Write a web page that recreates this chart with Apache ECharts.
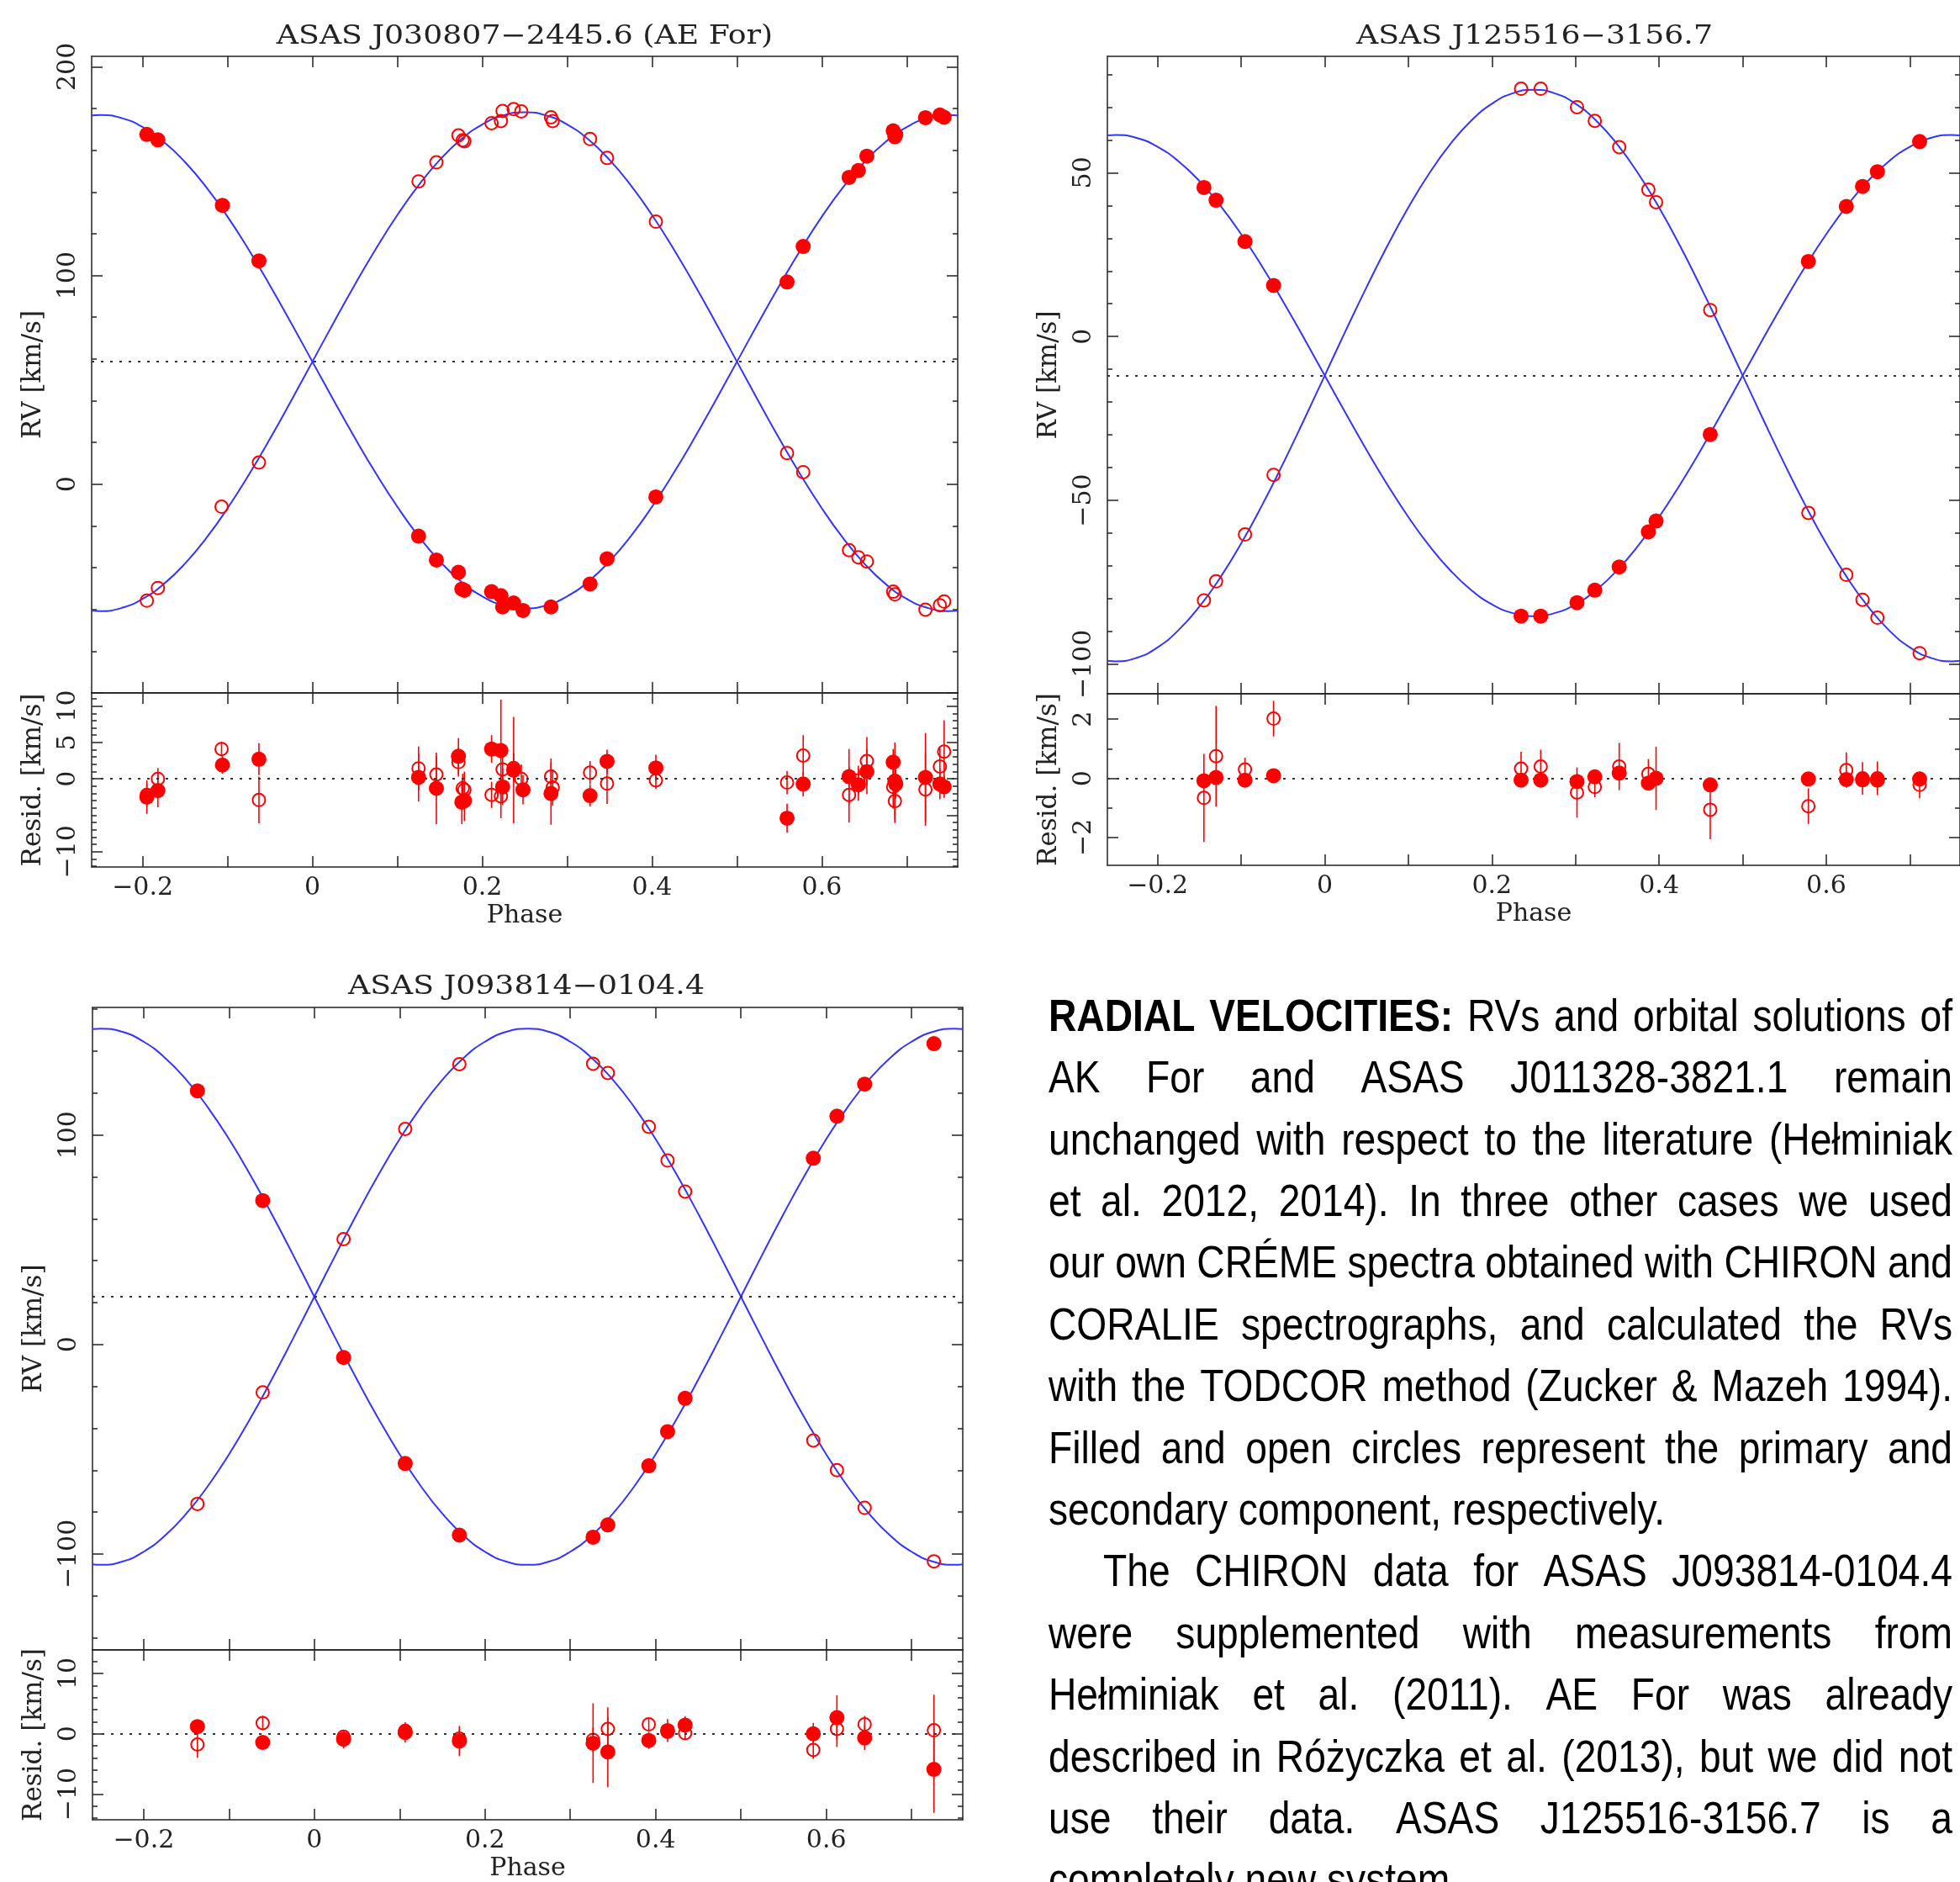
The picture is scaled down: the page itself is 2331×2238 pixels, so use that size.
<!DOCTYPE html>
<html><head><meta charset="utf-8">
<script src="https://cdn.jsdelivr.net/npm/echarts@6/dist/echarts.min.js"></script>
<style>html,body{margin:0;padding:0;background:#fff}#c{width:2331px;height:2238px}</style>
</head><body><div id="c"></div>
<script>
// ================= DATA =================
const curvePhase = [-0.26,-0.25,-0.225,-0.2,-0.175,-0.15,-0.125,-0.1,-0.075,-0.05,-0.025,0,0.025,0.05,0.075,0.1,0.125,0.15,0.175,0.2,0.225,0.25,
  0.275,0.3,0.325,0.35,0.375,0.4,0.425,0.45,0.475,0.5,0.525,0.55,0.575,0.6,0.625,0.65,0.675,0.7,0.725,0.75,0.76];

// ---- Panel A: ASAS J030807-2445.6 (AE For) ----
const aTitle = 'ASAS J030807\u22122445.6 (AE For)';
const aGamma = 58.7;
const aModelPrim = [176.66,176.9,175.45,171.12,164.02,154.32,142.28,128.18,112.36,95.22,77.19,58.7,40.21,22.18,5.04,-10.78,-24.88,-36.92,-46.62,-53.72,-58.05,-59.5,
  -58.05,-53.72,-46.62,-36.92,-24.88,-10.78,5.04,22.18,40.21,58.7,77.19,95.22,112.36,128.18,142.28,154.32,164.02,171.12,175.45,176.9,176.66];
const aModelSec = [-60.56,-60.8,-59.33,-54.96,-47.77,-37.98,-25.8,-11.54,4.45,21.77,40.01,58.7,77.39,95.63,112.95,128.94,143.2,155.38,165.17,172.36,176.73,178.2,
  176.73,172.36,165.17,155.38,143.2,128.94,112.95,95.63,77.39,58.7,40.01,21.77,4.45,-11.54,-25.8,-37.98,-47.77,-54.96,-59.33,-60.8,-60.56];
const aPhaseP = [-0.195,-0.182,-0.106,-0.063,0.125,0.146,0.172,0.176,0.179,0.211,0.222,0.224,0.237,0.248,0.281,0.327,0.347,0.4045,0.559,0.578,0.632,0.643,0.653,0.684,0.686,0.687,0.722,0.739,0.744];
const aRvP = [167.6,165.0,133.6,107.0,-24.9,-36.3,-42.2,-50.2,-50.8,-51.5,-53.4,-58.8,-56.9,-60.5,-58.8,-47.8,-35.7,-6.1,96.9,113.9,147.0,150.3,157.2,169.3,166.5,167.5,175.6,176.9,175.8];
const aResP = [-2.5,-1.6,1.9,2.7,0.2,-1.3,3.1,-3.2,-3.0,4.1,3.9,-1.1,1.2,-1.5,-2.0,-2.3,2.4,1.5,-5.4,-0.7,0.3,-0.8,1.0,2.3,-0.3,-0.7,0.2,-0.7,-1.1];
const aErrP = [2.3,2.3,1.2,2.2,3.3,4.9,2.5,3.0,2.8,1.9,7.0,2.5,7.3,2.0,4.3,1.5,1.6,1.8,2.0,1.7,3.8,2.2,3.1,1.8,5.3,2.0,6.1,2.1,1.5];
const aPhaseS = [-0.195,-0.182,-0.107,-0.063,0.125,0.146,0.172,0.177,0.179,0.211,0.222,0.224,0.237,0.246,0.281,0.283,0.327,0.347,0.4045,0.559,0.578,0.632,0.643,0.653,0.684,0.686,0.722,0.739,0.744];
const aRvS = [-55.8,-49.7,-10.8,10.4,145.1,154.2,167.1,164.8,164.3,173.0,174.0,178.8,179.7,178.6,175.8,174.0,165.4,156.3,125.8,14.9,5.8,-31.6,-35.0,-37.0,-51.5,-52.8,-60.1,-58.0,-56.2];
const aResS = [-2.2,0.0,4.1,-2.9,1.45,0.6,2.3,-1.3,-1.5,-2.2,-2.4,1.3,1.5,0.0,0.3,-1.2,0.85,-0.65,-0.2,-0.5,3.2,-2.2,-0.2,2.45,-1.1,-3.05,-1.45,1.7,3.75];
const aErrS = [1.5,1.5,1.0,3.2,3.0,2.5,2.0,2.0,2.5,1.8,3.0,2.5,2.0,2.0,2.5,2.5,1.6,2.8,1.2,1.6,2.8,3.8,2.0,3.3,3.0,3.0,5.0,2.5,4.3];

// ---- Panel B: ASAS J125516-3156.7 ----
const bTitle = 'ASAS J125516\u22123156.7';
const bGamma = -11.9;
const bModelPrim = [61.35,61.5,60.6,57.91,53.5,47.48,40.0,31.24,21.42,10.78,-0.42,-11.9,-23.38,-34.58,-45.22,-55.04,-63.8,-71.28,-77.3,-81.71,-84.4,-85.3,
  -84.4,-81.71,-77.3,-71.28,-63.8,-55.04,-45.22,-34.58,-23.38,-11.9,-0.42,10.78,21.42,31.24,40.0,47.48,53.5,57.91,60.6,61.5,61.35];
const bModelSec = [-98.93,-99.1,-98.03,-94.84,-89.6,-82.44,-73.56,-63.16,-51.49,-38.84,-25.54,-11.9,1.74,15.04,27.69,39.36,49.76,58.64,65.8,71.04,74.23,75.3,
  74.23,71.04,65.8,58.64,49.76,39.36,27.69,15.04,1.74,-11.9,-25.54,-38.84,-51.49,-63.16,-73.56,-82.44,-89.6,-94.84,-98.03,-99.1,-98.93];
const bPhase = [-0.1445,-0.130,-0.0954,-0.0612,0.2349,0.2584,0.3018,0.3231,0.3523,0.3872,0.3964,0.4612,0.5786,0.624,0.6434,0.6612,0.7117];
const bRvP = [45.5,41.6,29.0,15.6,-85.3,-85.3,-81.2,-77.4,-70.3,-59.6,-56.3,-29.9,22.9,39.7,45.8,50.3,59.5];
const bRvS = [-80.5,-74.7,-60.4,-42.2,75.6,75.6,70.0,65.8,57.8,44.8,41.0,8.1,-53.8,-72.7,-80.3,-85.8,-96.6];
const bResP = [-0.08,0.03,-0.06,0.09,-0.06,-0.06,-0.11,0.05,0.18,-0.16,0.0,-0.22,-0.02,-0.04,-0.05,-0.06,-0.02];
const bErrP = [0.1,0.1,0.1,0.1,0.1,0.1,0.1,0.1,0.1,0.1,0.1,0.1,0.1,0.1,0.1,0.1,0.1];
const bResS = [-0.66,0.75,0.30,2.02,0.33,0.40,-0.48,-0.29,0.40,0.15,0.0,-1.06,-0.94,0.28,0.0,0.0,-0.22];
const bErrS = [1.49,1.7,0.4,0.6,0.57,0.57,0.85,0.35,0.8,0.5,1.07,1.0,0.6,0.6,0.55,0.57,0.45];

// ---- Panel C: ASAS J093814-0104.4 ----
const cTitle = 'ASAS J093814\u22120104.4';
const cGamma = 22.8;
const cModelPrim = [150.54,150.8,149.23,144.54,136.85,126.35,113.31,98.04,80.91,62.35,42.82,22.8,2.78,-16.75,-35.31,-52.44,-67.71,-80.75,-91.25,-98.94,-103.63,-105.2,
  -103.63,-98.94,-91.25,-80.75,-67.71,-52.44,-35.31,-16.75,2.78,22.8,42.82,62.35,80.91,98.04,113.31,126.35,136.85,144.54,149.23,150.8,150.54];
const cModelSec = [-104.94,-105.2,-103.63,-98.94,-91.25,-80.75,-67.71,-52.44,-35.31,-16.75,2.78,22.8,42.82,62.35,80.91,98.04,113.31,126.35,136.85,144.54,149.23,150.8,
  149.23,144.54,136.85,126.35,113.31,98.04,80.91,62.35,42.82,22.8,2.78,-16.75,-35.31,-52.44,-67.71,-80.75,-91.25,-98.94,-103.63,-105.2,-104.94];
const cPhase = [-0.137,-0.0605,0.0343,0.1065,0.170,0.3267,0.344,0.392,0.414,0.4346,0.5848,0.6125,0.645,0.7262];
const cRvP = [121.1,68.7,-6.2,-56.8,-91.0,-92.0,-86.1,-57.9,-41.6,-25.7,88.9,109.0,124.3,143.6];
const cRvS = [-76.1,-22.9,50.3,102.9,133.8,134.0,129.6,103.9,87.8,73.0,-45.8,-60.0,-78.0,-103.5];
const cResP = [1.2,-1.43,-0.9,0.22,-1.2,-1.56,-3.0,-1.1,0.53,1.43,0.0,2.67,-0.67,-5.9];
const cErrP = [0.9,0.6,1.5,1.7,2.5,6.6,5.8,1.4,1.9,1.5,1.8,3.7,2.0,7.2];
const cResS = [-1.78,1.78,-0.5,0.5,-0.8,-1.0,0.8,1.56,0.3,0.1,-2.67,0.8,1.56,0.58];
const cErrS = [2.2,1.2,1.0,1.0,1.5,2.0,3.6,1.0,1.0,1.0,1.5,3.0,1.4,5.9];

// ---- tick labels ----
const xLabelVals = [-0.2, 0, 0.2, 0.4, 0.6];
const xTickVals = [-0.2,-0.1,0,0.1,0.2,0.3,0.4,0.5,0.6,0.7];
const aMainLabels = [0, 100, 200];
const aResLabels = [-10, -5, 0, 5, 10];
const bMainLabels = [-100, -50, 0, 50];
const bResLabels = [-2, 0, 2];
const cMainLabels = [-100, 0, 100];
const cResLabels = [-10, 0, 10];

// ---- paragraph text ----
const textLines = [
  {t:'*RADIAL *VELOCITIES: RVs and orbital solutions of', j:true},
  {t:'AK For and ASAS J011328-3821.1 remain', j:true},
  {t:'unchanged with respect to the literature (Hełminiak', j:true},
  {t:'et al. 2012, 2014). In three other cases we used', j:true},
  {t:'our own CRÉME spectra obtained with CHIRON and', j:true},
  {t:'CORALIE spectrographs, and calculated the RVs', j:true},
  {t:'with the TODCOR method (Zucker & Mazeh 1994).', j:true},
  {t:'Filled and open circles represent the primary and', j:true},
  {t:'secondary component, respectively.', j:false},
  {t:'The CHIRON data for ASAS J093814-0104.4', j:true, ind:true},
  {t:'were supplemented with measurements from', j:true},
  {t:'Hełminiak et al. (2011). AE For was already', j:true},
  {t:'described in Różyczka et al. (2013), but we did not', j:true},
  {t:'use their data. ASAS J125516-3156.7 is a', j:true},
  {t:'completely new system.', j:false}
];

// ================= STYLE / LAYOUT =================
const BLUE = '#3434ff', RED = '#ff0000', INK = '#222222';
const SERIF = '"DejaVu Serif", "Liberation Serif", serif';
const LBL = 30;

function fmt(v){ const r = Math.round(v*1000)/1000; if (r === 0) return '0'; return (r<0?'\u2212':'') + String(Math.abs(r)); }
function steps(a,b,s){ const o=[]; for(let v=a; v<=b+1e-9; v+=s) o.push(Math.round(v*1000)/1000); return o; }
function zip(a,b){ return a.map((v,i)=>[v,b[i]]); }
function bars(p,r,e){ return p.map((v,i)=>[v, r[i]-e[i], r[i]+e[i]]); }

const grids=[], xAxes=[], yAxes=[], series=[], graphics=[];
const lineSt = {color: INK, width: 1.5};

function addGrid(box, ymin, ymax, yMajor, yLabels, yMinor, showX, yName){
  const gi = grids.length;
  grids.push({left: box.l, top: box.t, width: box.w, height: box.h});
  const xi = xAxes.length;
  const xc = {gridIndex: gi, type:'value', min:-0.26, max:0.76, splitLine:{show:false},
    axisLine:{show:true, onZero:false, lineStyle:lineSt},
    axisTick:{show:true, inside:true, length:13, customValues:xTickVals, lineStyle:lineSt}};
  xAxes.push(Object.assign({}, xc, {position:'bottom',
    axisLabel: showX ? {show:true, customValues:xLabelVals, formatter:fmt, margin:10, hideOverlap:false, fontFamily:SERIF, fontSize:LBL, color:INK} : {show:false},
    name: showX ? 'Phase' : '', nameLocation:'middle', nameGap:43,
    nameTextStyle:{fontFamily:SERIF, fontSize:LBL, color:INK}}));
  xAxes.push(Object.assign({}, xc, {position:'top', axisLabel:{show:false}}));
  const yi = yAxes.length;
  const yc = {gridIndex: gi, type:'value', min:ymin, max:ymax, splitLine:{show:false}};
  const nameSt = {fontFamily:SERIF, fontSize:31, color:INK};
  yAxes.push(Object.assign({}, yc, {position:'left', axisLine:{show:true, onZero:false, lineStyle:lineSt},
    axisTick:{show:true, inside:true, length:13, customValues:yMajor, lineStyle:lineSt},
    axisLabel:{show:true, customValues:yLabels, formatter:fmt, rotate:90, margin:13, hideOverlap:false, showMinLabel:true, showMaxLabel:true, fontFamily:SERIF, fontSize:LBL, color:INK},
    name:yName, nameLocation:'middle', nameGap:54, nameRotate:90, nameTextStyle:nameSt}));
  yAxes.push(Object.assign({}, yc, {position:'left', axisLine:{show:false, onZero:false},
    axisTick:{show:true, inside:true, length:6, customValues:yMinor, lineStyle:lineSt}, axisLabel:{show:false}}));
  yAxes.push(Object.assign({}, yc, {position:'right', axisLine:{show:true, onZero:false, lineStyle:lineSt},
    axisTick:{show:true, inside:true, length:13, customValues:yMajor, lineStyle:lineSt}, axisLabel:{show:false}}));
  yAxes.push(Object.assign({}, yc, {position:'right', axisLine:{show:false, onZero:false},
    axisTick:{show:true, inside:true, length:6, customValues:yMinor, lineStyle:lineSt}, axisLabel:{show:false}}));
  return {xi, yi};
}

const dotted = {color:'#333', width:2, type:[3,8]};
function gammaLine(v){ return {silent:true, symbol:['none','none'], label:{show:false}, lineStyle:dotted, data:[{yAxis:v}], animation:false}; }

function errSeries(ax, data){
  return {type:'custom', xAxisIndex:ax.xi, yAxisIndex:ax.yi, data, encode:{x:0, y:[1,2]}, z:3, silent:true,
    renderItem:(params, api)=>{
      const p1 = api.coord([api.value(0), api.value(1)]);
      const p2 = api.coord([api.value(0), api.value(2)]);
      return {type:'line', shape:{x1:p1[0], y1:p1[1], x2:p2[0], y2:p2[1]}, style:{stroke:RED, lineWidth:1.6}};
    }};
}
function filled(ax, data){ return {type:'scatter', xAxisIndex:ax.xi, yAxisIndex:ax.yi, data, symbol:'circle', symbolSize:18, itemStyle:{color:RED, opacity:1}, z:5, silent:true}; }
function open(ax, data){ return {type:'scatter', xAxisIndex:ax.xi, yAxisIndex:ax.yi, data, symbol:'circle', symbolSize:15, itemStyle:{color:'rgba(255,255,255,0)', borderColor:RED, borderWidth:2, opacity:1}, z:4, silent:true}; }

function panel(P){
  const m = addGrid(P.main, P.mainMin, P.mainMax, P.mainMajor, P.mainLabels, P.mainMinor, false, 'RV [km/s]');
  const r = addGrid(P.res, P.resMin, P.resMax, P.resMajor, P.resLabels, P.resMinor, true, 'Resid. [km/s]');
  series.push({type:'line', xAxisIndex:m.xi, yAxisIndex:m.yi, data:zip(curvePhase, P.modelP), smooth:true, showSymbol:false,
    lineStyle:{color:BLUE, width:2}, z:2, silent:true, markLine:gammaLine(P.gamma)});
  series.push({type:'line', xAxisIndex:m.xi, yAxisIndex:m.yi, data:zip(curvePhase, P.modelS), smooth:true, showSymbol:false,
    lineStyle:{color:BLUE, width:2}, z:2, silent:true});
  series.push(open(m, zip(P.phaseS, P.rvS)));
  series.push(filled(m, zip(P.phaseP, P.rvP)));
  const zero = filled(r, zip(P.phaseP, P.resP));
  zero.markLine = gammaLine(0);
  series.push(errSeries(r, bars(P.phaseS, P.resS, P.errS)));
  series.push(errSeries(r, bars(P.phaseP, P.resP, P.errP)));
  series.push(open(r, zip(P.phaseS, P.resS)));
  series.push(zero);
  graphics.push({type:'text', x:P.tx, y:P.ty, scaleX:1.17, silent:true,
    style:{text:P.title, font:'31px ' + SERIF, fill:INK, textAlign:'center', textVerticalAlign:'middle'}});
}

panel({title:aTitle, tx:624, ty:44, gamma:aGamma, modelP:aModelPrim, modelS:aModelSec,
  phaseP:aPhaseP, rvP:aRvP, resP:aResP, errP:aErrP, phaseS:aPhaseS, rvS:aRvS, resS:aResS, errS:aErrS,
  main:{l:109, t:67, w:1030, h:757}, mainMin:-100, mainMax:205, mainMajor:[-100,0,100,200], mainLabels:aMainLabels, mainMinor:steps(-100,200,20),
  res:{l:109, t:824, w:1030, h:207}, resMin:-12.1, resMax:11.8, resMajor:[-10,-5,0,5,10], resLabels:aResLabels, resMinor:steps(-12,11,1)});

panel({title:bTitle, tx:1825, ty:44, gamma:bGamma, modelP:bModelPrim, modelS:bModelSec,
  phaseP:bPhase, rvP:bRvP, resP:bResP, errP:bErrP, phaseS:bPhase, rvS:bRvS, resS:bResS, errS:bErrS,
  main:{l:1317, t:67, w:1016, h:758}, mainMin:-109, mainMax:85.5, mainMajor:[-100,-50,0,50], mainLabels:bMainLabels, mainMinor:steps(-100,80,10),
  res:{l:1317, t:825, w:1016, h:204}, resMin:-2.94, resMax:2.86, resMajor:[-2,0,2], resLabels:bResLabels, resMinor:[-1,1]});

panel({title:cTitle, tx:626, ty:1174, gamma:cGamma, modelP:cModelPrim, modelS:cModelSec,
  phaseP:cPhase, rvP:cRvP, resP:cResP, errP:cErrP, phaseS:cPhase, rvS:cRvS, resS:cResS, errS:cErrS,
  main:{l:110, t:1198, w:1035, h:764}, mainMin:-145.8, mainMax:160.9, mainMajor:[-100,0,100], mainLabels:cMainLabels, mainMinor:steps(-140,160,20),
  res:{l:110, t:1962, w:1035, h:210}, resMin:-14.25, resMax:13.9, resMajor:[-10,0,10], resLabels:cResLabels, resMinor:steps(-14,12,2)});

// ---- paragraph (justified, condensed) ----
const TFONT = '"Liberation Sans", Arial, sans-serif';
const TS = 54, SX = 0.855;
const X0 = 1247, X1 = 2322, IND = 1312, BASE0 = 1227, LEAD = 73.4, BOFF = 11;
const mctx = document.createElement('canvas').getContext('2d');
function fontStr(b){ return (b?'bold ':'') + TS + 'px ' + TFONT; }
function mw(t,b){ mctx.font = fontStr(b); return mctx.measureText(t).width * SX; }
textLines.forEach((ln, i) => {
  const words = ln.t.split(' ').filter(Boolean).map(w => ({s:w.replace(/^\*/, ''), b:w.charAt(0)==='*'}));
  const ws = words.map(w => mw(w.s, w.b));
  const xs = ln.ind ? IND : X0;
  const tot = ws.reduce((a,c)=>a+c, 0);
  const gap = (ln.j && words.length > 1) ? (X1 - xs - tot)/(words.length - 1) : mw(' ', false);
  let x = xs;
  const y = BASE0 + i*LEAD + BOFF;
  words.forEach((w, k) => {
    graphics.push({type:'text', x:x, y:y, scaleX:SX, silent:true,
      style:{text:w.s, font:fontStr(w.b), fill:'#000', textAlign:'left', textVerticalAlign:'bottom'}});
    x += ws[k] + gap;
  });
});

const chart = echarts.init(document.getElementById('c'), null, {renderer:'canvas'});
chart.setOption({
  animation:false, backgroundColor:'#fff',
  grid:grids, xAxis:xAxes, yAxis:yAxes, series:series, graphic:graphics
});
</script></body></html>
